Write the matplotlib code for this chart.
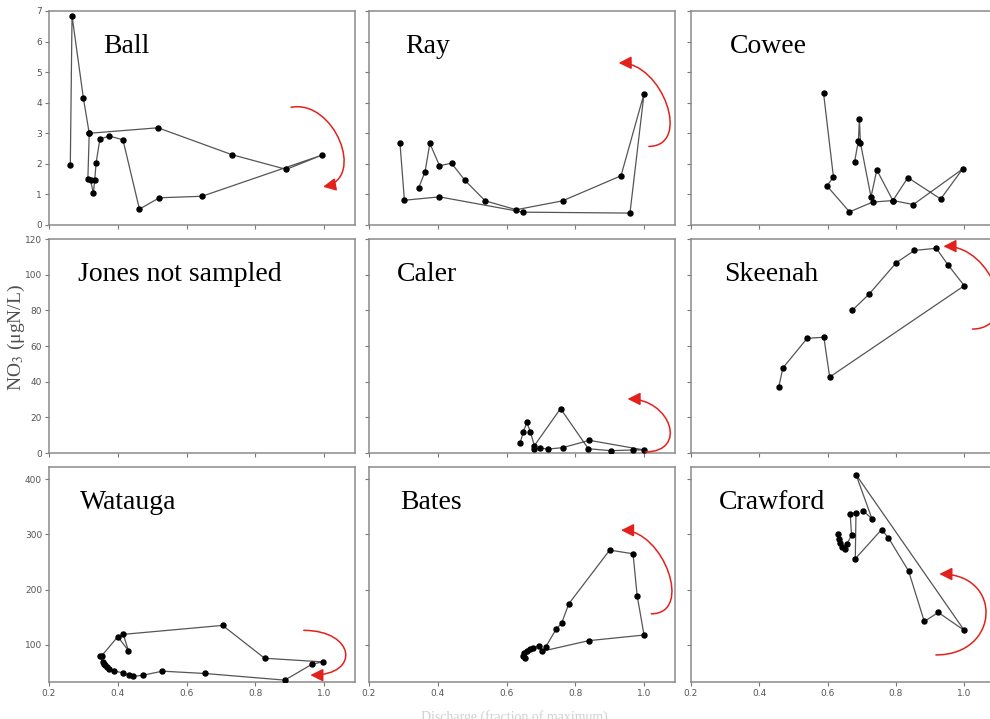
import matplotlib
matplotlib.use('Agg')
import matplotlib.pyplot as plt
from matplotlib.patches import FancyArrowPatch
from matplotlib.path import Path

plt.rcParams['mathtext.fontset'] = 'stix'

# --- data (x = discharge ratio, y = NO3) ---
ball_x = [0.262, 0.267, 0.300, 0.317, 0.313, 0.321, 0.329, 0.333, 0.337, 0.348, 0.375,
          0.415, 0.463, 0.521, 0.645, 0.995, 0.890, 0.732, 0.517, 0.317]
ball_y = [1.97, 6.84, 4.15, 3.00, 1.49, 1.46, 1.04, 1.47, 2.03, 2.81, 2.91,
          2.79, 0.52, 0.89, 0.94, 2.29, 1.82, 2.30, 3.18, 3.00]

ray_x = [0.290, 0.303, 0.405, 0.648, 0.959, 1.000, 0.933, 0.763, 0.628, 0.538,
         0.479, 0.440, 0.405, 0.377, 0.363, 0.344]
ray_y = [2.69, 0.81, 0.92, 0.42, 0.39, 4.30, 1.61, 0.79, 0.50, 0.79,
         1.46, 2.02, 1.94, 2.67, 1.74, 1.20]

cowee_x = [0.588, 0.617, 0.598, 0.664, 0.732, 0.791, 0.851, 0.995, 0.931, 0.835,
           0.791, 0.744, 0.727, 0.696, 0.693, 0.690, 0.679]
cowee_y = [4.32, 1.57, 1.28, 0.43, 0.75, 0.80, 0.67, 1.83, 0.85, 1.55,
           0.80, 1.80, 0.92, 2.69, 3.46, 2.75, 2.07]

caler_x = [0.639, 0.649, 0.659, 0.669, 0.681, 0.757, 0.838, 0.903, 0.968, 1.000,
           0.841, 0.763, 0.721, 0.697, 0.681]
caler_y = [5.4, 11.8, 17.2, 12.0, 4.1, 24.9, 2.4, 1.3, 1.7, 1.7,
           7.1, 3.0, 2.2, 2.8, 2.2]

skeenah_x = [0.457, 0.469, 0.540, 0.589, 0.606, 1.000, 0.952, 0.918, 0.854, 0.801, 0.721, 0.672]
skeenah_y = [37.0, 47.7, 64.3, 64.9, 42.6, 93.8, 105.6, 114.8, 113.6, 106.7, 89.0, 80.0]

watauga_x = [0.357, 0.348, 0.354, 0.400, 0.431, 0.416, 0.705, 0.827, 0.996, 0.965,
             0.886, 0.653, 0.530, 0.474, 0.444, 0.433, 0.416, 0.390, 0.375, 0.369,
             0.364, 0.360]
watauga_y = [69.4, 79.6, 80.8, 115.0, 89.8, 119.2, 135.4, 76.0, 69.4, 65.2,
             36.4, 48.4, 52.6, 45.4, 43.0, 44.8, 49.6, 52.6, 57.4, 60.4,
             63.4, 66.4]

bates_x = [0.714, 0.745, 0.760, 0.781, 0.900, 0.968, 0.980, 1.000, 0.839, 0.703,
           0.694, 0.677, 0.669, 0.659, 0.651, 0.648, 0.654]
bates_y = [96.4, 129.4, 139.0, 174.4, 271.6, 265.0, 188.8, 118.0, 107.8, 88.6,
           98.8, 94.0, 92.2, 89.2, 86.2, 80.8, 76.6]

crawford_x = [0.630, 0.632, 0.636, 0.642, 0.650, 0.656, 0.670, 0.666, 0.683, 0.681,
              0.758, 0.778, 0.837, 0.883, 0.924, 1.000, 0.683, 0.730, 0.705]
crawford_y = [300.0, 292.0, 284.0, 278.0, 274.0, 282.0, 298.6, 337.6, 339.4, 256.0,
              308.8, 293.8, 233.8, 142.6, 158.8, 126.4, 408.3, 328.0, 342.4]

names = ['Ball', 'Ray', 'Cowee',
         'Jones not sampled', 'Caler', 'Skeenah',
         'Watauga', 'Bates', 'Crawford']
series = [(ball_x, ball_y), (ray_x, ray_y), (cowee_x, cowee_y),
          None, (caler_x, caler_y), (skeenah_x, skeenah_y),
          (watauga_x, watauga_y), (bates_x, bates_y), (crawford_x, crawford_y)]

# red hysteresis arrows: start, apex, tip (data coords)
arrows = [
    ((0.904, 3.85), (1.045, 2.75), (0.997, 1.25)),
    ((1.014, 2.57), (1.065, 3.95), (0.926, 5.30)),
    None,
    None,
    ((1.004, 0.6), (1.072, 15.5), (0.952, 30.3)),
    ((1.024, 69.5), (1.09, 93.0), (0.939, 115.9)),
    ((0.941, 126.4), (1.062, 86.0), (0.960, 45.4)),
    ((1.021, 156.4), (1.070, 232.0), (0.933, 307.6)),
    ((0.917, 82.0), (1.063, 155.0), (0.927, 228.4)),
]

row_ylim = [(0, 7), (0, 120), (33, 422)]
row_yticks = [range(0, 8), range(0, 121, 20), [100, 200, 300, 400]]
xticks = [0.2, 0.4, 0.6, 0.8, 1.0]

W, H = 990, 719
fig = plt.figure(figsize=(W / 100, H / 100), dpi=100)
fig.patch.set_facecolor('white')

col_left = [49, 369, 691]
col_width = [306, 306, 304]
row_top = [11, 239, 467]
row_height = [214, 214, 215]
label_x = [0.176, 0.118, 0.128, 0.095, 0.092, 0.109, 0.101, 0.101, 0.092]

for i, name in enumerate(names):
    r, c = divmod(i, 3)
    ax = fig.add_axes([col_left[c] / W, 1 - (row_top[r] + row_height[r]) / H,
                       col_width[c] / W, row_height[r] / H])
    ax.set_xlim(0.2, 1.09)
    ax.set_ylim(*row_ylim[r])
    ax.set_xticks(xticks)
    ax.set_yticks(list(row_yticks[r]))
    for s in ax.spines.values():
        s.set_color('#8a8a8a')
        s.set_linewidth(1.1)
    ax.tick_params(direction='out', length=3, width=0.8, color='#777777',
                   labelsize=6.5, labelcolor='#555555', pad=2)
    if r == 2:
        ax.set_xticklabels(['%.1f' % t for t in xticks])
    else:
        ax.set_xticklabels([])
    if c != 0:
        ax.set_yticklabels([])

    if series[i] is not None:
        xs, ys = series[i]
        ax.plot(xs, ys, color='#555555', lw=0.9, marker='o', ms=3.6,
                mfc='black', mec='black', zorder=3)

    ax.text(label_x[i], 0.805, name, transform=ax.transAxes,
            family='Liberation Serif', fontsize=20, va='baseline', ha='left')

    if arrows[i] is not None:
        (sx, sy), (axx, ayy), (ex, ey) = arrows[i]
        mx, my = (sx + ex) / 2, (sy + ey) / 2
        dx, dy = (axx - mx) * 4 / 3, (ayy - my) * 4 / 3
        verts = [(sx, sy), (sx + dx, sy + dy), (ex + dx, ey + dy), (ex, ey)]
        codes = [Path.MOVETO, Path.CURVE4, Path.CURVE4, Path.CURVE4]
        arr = FancyArrowPatch(path=Path(verts, codes),
                              arrowstyle='-|>,head_length=0.7,head_width=0.35',
                              mutation_scale=11, color='#e3211c', lw=1.1,
                              clip_on=False, zorder=4)
        ax.add_patch(arr)

fig.text(0.017, 0.53, r'NO$_3$ (μgN/L)', rotation=90, ha='center', va='center',
         fontsize=14, color='#505050', family='Liberation Serif')
fig.text(0.52, 0.003, 'Discharge (fraction of maximum)', ha='center', va='center',
         fontsize=10, color='#d0d0d0', family='Liberation Serif')

fig.savefig('out.png', dpi=100, facecolor='white')
